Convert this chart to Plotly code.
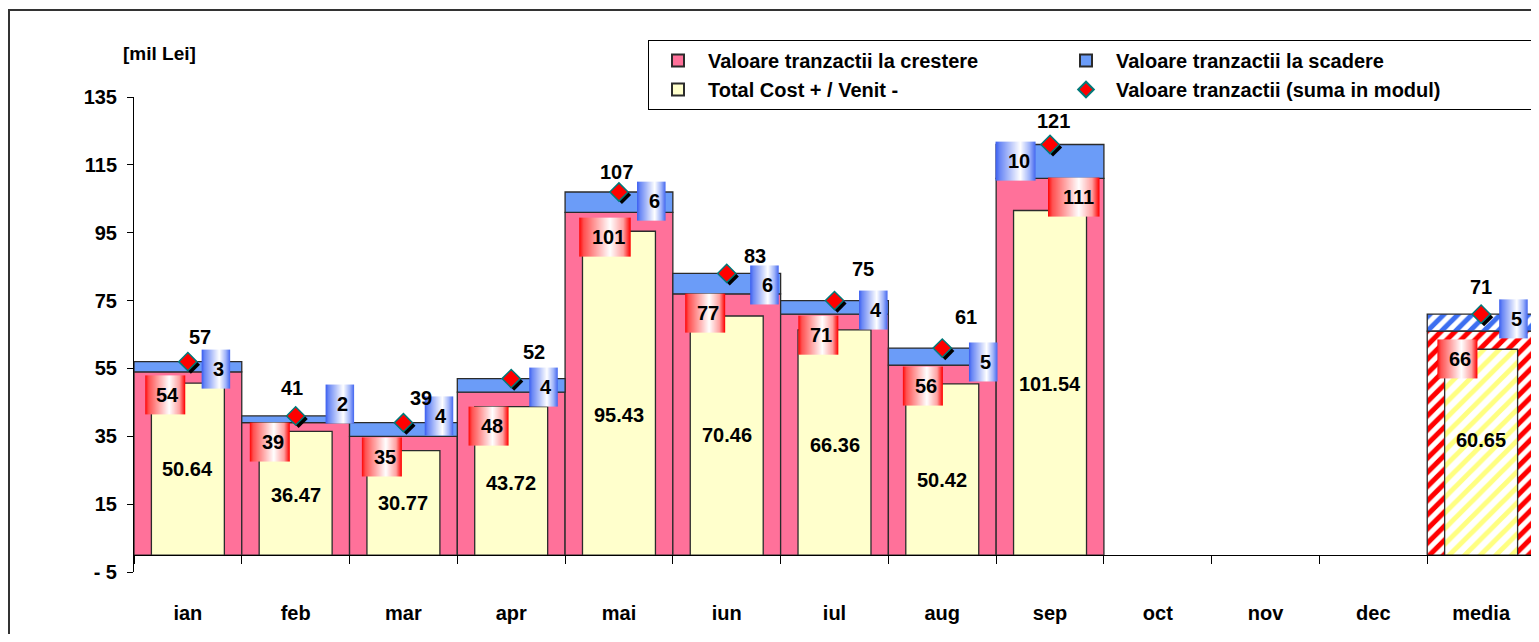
import base64
import struct
import zlib
import plotly.graph_objects as go

# ---------------- data ----------------
MONTHS = ["ian", "feb", "mar", "apr", "mai", "iun", "iul", "aug", "sep", "oct", "nov", "dec", "media"]
CRESTERE = [54, 39, 35, 48, 101, 77, 71, 56, 111, None, None, None, 66]
SCADERE = [3, 2, 4, 4, 6, 6, 4, 5, 10, None, None, None, 5]
TOTAL = [57, 41, 39, 52, 107, 83, 75, 61, 121, None, None, None, 71]
COST = [50.64, 36.47, 30.77, 43.72, 95.43, 70.46, 66.36, 50.42, 101.54, None, None, None, 60.65]
Y_TICKS = [-5, 15, 35, 55, 75, 95, 115, 135]
Y_TICK_LABELS = ["- 5", "15", "35", "55", "75", "95", "115", "135"]

SERIES_NAMES = ["Valoare tranzactii la crestere", "Valoare tranzactii la scadere",
                "Total Cost + / Venit -", "Valoare tranzactii (suma in modul)"]
UNIT_LABEL = "[mil Lei]"
AVG_CATEGORY = "media"

# ---------------- label placement (manual offsets, as in the original) ----------------
PINK_LABEL_DX = [-0.21, -0.24, -0.20, -0.21, -0.13, -0.20, -0.15, -0.18, 0.22, None, None, None, -0.22]
PINK_LABEL_DY = [-6.8, -5.7, -6.1, -10.0, -7.3, -5.7, -6.2, -6.2, -5.5, None, None, None, -8.2]
BLUE_LABEL_DX = [0.26, 0.41, 0.33, 0.30, 0.30, 0.35, 0.36, 0.38, -0.32, None, None, None, 0.30]
BLUE_LABEL_DY = [-2.2, 3.5, 2.0, -2.5, -2.7, -3.4, -2.8, -4.1, -4.9, None, None, None, -1.4]
TOTAL_LABEL_DX = [0.11, -0.03, 0.16, 0.21, -0.02, 0.26, 0.26, 0.22, 0.03, None, None, None, 0.0]
TOTAL_LABEL_DY = [7.2, 8.2, 7.3, 7.8, 5.9, 5.1, 9.3, 9.1, 6.9, None, None, None, 8.0]
COST_LABEL_Y = [25.3, 17.7, 15.3, 21.2, 41.3, 35.4, 32.4, 22.1, 50.4, None, None, None, 33.9]

# ---------------- geometry / style ----------------
PAGE_OFFSET = 8            # default body margin of the html page
W, H = 1531, 626
M_L, M_R, M_T, M_B = 126, 4, 89, 62
Y_MIN, Y_MAX = -5, 135
N = len(MONTHS)
PLOT_W = W - M_L - M_R
PLOT_H = H - M_T - M_B
PX_PER_X = PLOT_W / N
PX_PER_Y = PLOT_H / (Y_MAX - Y_MIN)


def paper_x(page_px):
    return (page_px - PAGE_OFFSET - M_L) / PLOT_W


def paper_y(page_py):
    return (H - M_B - (page_py - PAGE_OFFSET)) / PLOT_H


FONT = "Liberation Sans, Arial, sans-serif"
PINK = "#FF719A"
BLUE = "#6B9CF8"
YELLOW = "#FFFFCC"
OUTLINE = "#2B2B2B"
YELLOW_WIDTH = 0.677

BOX_H_PX = 39
PINK_BOX_STOPS = [(0.0, (255, 10, 10)), (0.08, (255, 80, 80)), (0.6, (255, 255, 255)),
                  (0.86, (255, 160, 160)), (1.0, (255, 0, 0))]
BLUE_BOX_STOPS = [(0.0, (60, 95, 240)), (0.1, (105, 135, 245)), (0.62, (255, 255, 255)),
                  (0.85, (160, 180, 250)), (1.0, (70, 105, 240))]


def _interp(stops, t):
    for (t0, c0), (t1, c1) in zip(stops[:-1], stops[1:]):
        if t0 <= t <= t1:
            f = 0 if t1 == t0 else (t - t0) / (t1 - t0)
            return tuple(int(round(a + (b - a) * f)) for a, b in zip(c0, c1))
    return stops[-1][1]


def gradient_png(stops, n=96):
    row = [_interp(stops, i / (n - 1)) for i in range(n)]
    raw = b"".join(b"\x00" + bytes(v for px in row for v in px) for _ in range(2))

    def chunk(tag, data):
        body = tag + data
        return struct.pack(">I", len(data)) + body + struct.pack(">I", zlib.crc32(body) & 0xFFFFFFFF)

    png = (b"\x89PNG\r\n\x1a\n"
           + chunk(b"IHDR", struct.pack(">IIBBBBB", n, 2, 8, 2, 0, 0, 0))
           + chunk(b"IDAT", zlib.compress(raw))
           + chunk(b"IEND", b""))
    return "data:image/png;base64," + base64.b64encode(png).decode()


PINK_BOX_IMG = gradient_png(PINK_BOX_STOPS)
BLUE_BOX_IMG = gradient_png(BLUE_BOX_STOPS)

idx = list(range(N))
avg_i = MONTHS.index(AVG_CATEGORY)


def months_only(values):
    return [None if i == avg_i else v for i, v in enumerate(values)]


bold = dict(family=FONT, size=20, color="black", weight="bold")
line = dict(color=OUTLINE, width=1.3)


def hatch_strong(color):
    # coloured diagonal stripes on the white background
    return dict(color=[color], line=line,
                pattern=dict(shape=["/"], size=[10], solidity=[0.5], fillmode="replace"))


def hatch_soft(color):
    # pale stripes on an opaque white background
    return dict(color=color, line=line,
                pattern=dict(shape="/", fgcolor=color, bgcolor="white", size=11, solidity=0.45,
                             fillmode="replace"))


fig = go.Figure()

# monthly bars
fig.add_trace(go.Bar(
    x=idx, y=months_only(CRESTERE), base=0, width=1.0, name=SERIES_NAMES[0], legendgroup="g1",
    legendwidth=343, marker=dict(color=PINK, line=line), hoverinfo="skip"))
fig.add_trace(go.Bar(
    x=idx, y=months_only(SCADERE), base=months_only(CRESTERE), width=1.0, name=SERIES_NAMES[1],
    legendgroup="g2", legendwidth=410, marker=dict(color=BLUE, line=line), hoverinfo="skip"))
fig.add_trace(go.Bar(
    x=idx, y=months_only(COST), base=0, width=YELLOW_WIDTH, name=SERIES_NAMES[2], legendgroup="g1",
    legendwidth=343, marker=dict(color=YELLOW, line=line), hoverinfo="skip"))

# average ("media") bars, hatched
fig.add_trace(go.Bar(
    x=[avg_i], y=[CRESTERE[avg_i]], base=0, width=1.0, showlegend=False, hoverinfo="skip",
    marker=hatch_strong("#FF0000")))
fig.add_trace(go.Bar(
    x=[avg_i], y=[SCADERE[avg_i]], base=[CRESTERE[avg_i]], width=1.0, showlegend=False, hoverinfo="skip",
    marker=hatch_strong("#3C6EF0")))
fig.add_trace(go.Bar(
    x=[avg_i], y=[COST[avg_i]], base=0, width=YELLOW_WIDTH, showlegend=False, hoverinfo="skip",
    marker=hatch_soft("#FFFF80")))

# diamond shadow + diamonds
shadow_dx = 3 / PX_PER_X
shadow_dy = 3 / PX_PER_Y
fig.add_trace(go.Scatter(
    x=[i + shadow_dx for i in idx],
    y=[None if t is None else t - shadow_dy for t in TOTAL],
    mode="markers", showlegend=False, hoverinfo="skip",
    marker=dict(symbol="diamond", size=14, color="black", line=dict(width=0)),
))
fig.add_trace(go.Scatter(
    x=idx, y=TOTAL, mode="markers", name=SERIES_NAMES[3], legendgroup="g2",
    legendwidth=410,
    marker=dict(symbol="diamond", size=14, color="#FF0000", line=dict(color="#007A7A", width=1.5)),
    hoverinfo="skip",
))

annotations = []
images = []


def add_box_label(xc, yc, value, img):
    text = str(value)
    w_px = 17 + 11.5 * len(text)
    images.append(dict(source=img, xref="x", yref="y", x=xc, y=yc,
                       sizex=w_px / PX_PER_X, sizey=BOX_H_PX / PX_PER_Y,
                       xanchor="center", yanchor="middle", sizing="stretch", layer="above"))
    annotations.append(dict(x=xc + (w_px / 2) / PX_PER_X, y=yc, xref="x", yref="y", text=text,
                            showarrow=False, xanchor="right", yanchor="middle", xshift=-4,
                            font=bold))


for i in idx:
    if CRESTERE[i] is None:
        continue
    add_box_label(i + PINK_LABEL_DX[i], CRESTERE[i] + PINK_LABEL_DY[i], CRESTERE[i], PINK_BOX_IMG)
    add_box_label(i + BLUE_LABEL_DX[i], TOTAL[i] + BLUE_LABEL_DY[i], SCADERE[i], BLUE_BOX_IMG)
    annotations.append(dict(x=i + TOTAL_LABEL_DX[i], y=TOTAL[i] + TOTAL_LABEL_DY[i], xref="x", yref="y",
                            text=str(TOTAL[i]), showarrow=False, font=bold))
    annotations.append(dict(x=i, y=COST_LABEL_Y[i], xref="x", yref="y",
                            text=f"{COST[i]:.2f}", showarrow=False, font=bold))

annotations.append(dict(x=paper_x(159), y=paper_y(53), xref="paper", yref="paper", text=UNIT_LABEL,
                        showarrow=False, xanchor="center", yanchor="middle", font=dict(bold, size=19)))

fig.update_layout(
    width=W, height=H,
    margin=dict(l=M_L, r=M_R, t=M_T, b=M_B, pad=0),
    paper_bgcolor="white", plot_bgcolor="white",
    font=bold,
    barmode="overlay",
    showlegend=True,
    legend=dict(
        orientation="h", traceorder="grouped",
        x=paper_x(648), y=paper_y(40),
        xanchor="left", yanchor="top",
        bordercolor="black", borderwidth=1, bgcolor="white",
        itemsizing="constant", itemwidth=50, font=bold,
    ),
    xaxis=dict(
        range=[-0.5, N - 0.5], tickmode="array", tickvals=idx, ticktext=MONTHS,
        ticks="", showline=True, linecolor="black", linewidth=1,
        anchor="free", position=(0 - Y_MIN) / (Y_MAX - Y_MIN),
        minor=dict(tickmode="array", tickvals=[i - 0.5 for i in range(N + 1)],
                   ticks="outside", ticklen=8, tickcolor="black", tickwidth=1, showgrid=False),
        ticklabelstandoff=40, showgrid=False, zeroline=False, tickfont=bold,
    ),
    yaxis=dict(
        range=[Y_MIN, Y_MAX], tickmode="array", tickvals=Y_TICKS, ticktext=Y_TICK_LABELS,
        ticks="outside", ticklen=6, tickcolor="black", showline=True, linecolor="black",
        linewidth=1, showgrid=False, zeroline=False, ticklabelstandoff=6, tickfont=bold,
    ),
    annotations=annotations,
    images=images,
    shapes=[dict(type="rect", xref="paper", yref="paper",
                 x0=paper_x(PAGE_OFFSET + 1), x1=1.05,
                 y0=-0.3, y1=paper_y(10),
                 line=dict(color="#333333", width=2), fillcolor="rgba(0,0,0,0)", layer="below")],
)

fig.write_html("out.html")
